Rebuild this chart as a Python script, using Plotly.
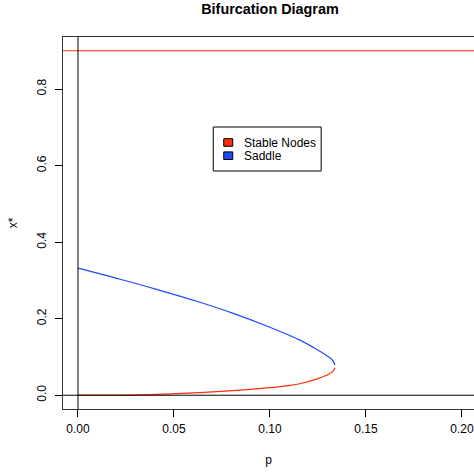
import plotly.graph_objects as go

# ---- data ----
p_saddle = [0.0, 0.022, 0.040, 0.0635, 0.0809, 0.0983, 0.1156, 0.1243, 0.1295, 0.1325, 0.1339]
x_saddle = [0.332, 0.303, 0.278, 0.243, 0.214, 0.181, 0.144, 0.120, 0.1036, 0.092, 0.079]

p_node = [0.0, 0.03, 0.0635, 0.0809, 0.0983, 0.108, 0.1156, 0.1243, 0.1295, 0.1325, 0.1339]
x_node = [0.0, 0.001, 0.007, 0.012, 0.019, 0.024, 0.030, 0.042, 0.052, 0.061, 0.072]

upper_node = 0.9

x_ticks = [0.0, 0.05, 0.10, 0.15, 0.20]
x_tick_labels = ["0.00", "0.05", "0.10", "0.15", "0.20"]
y_ticks = [0.0, 0.2, 0.4, 0.6, 0.8]
y_tick_labels = ["0.0", "0.2", "0.4", "0.6", "0.8"]

legend_labels = ["Stable Nodes", "Saddle"]

RED = "#FF2D0A"
BLUE = "#1E4BFF"
FONT = "Liberation Sans, Arial, Helvetica, sans-serif"

W, H = 474, 474
L, R, T, B = 62.6, 0, 37, 65

fig = go.Figure()

fig.add_trace(go.Scatter(x=p_saddle, y=x_saddle, mode="lines",
                         line=dict(color=BLUE, width=1.2, shape="spline", smoothing=1.0),
                         showlegend=False, hoverinfo="skip"))
fig.add_trace(go.Scatter(x=p_node, y=x_node, mode="lines",
                         line=dict(color=RED, width=1.2, shape="spline", smoothing=1.0),
                         showlegend=False, hoverinfo="skip"))

fig.add_hline(y=upper_node, line=dict(color=RED, width=1))
fig.add_hline(y=0, line=dict(color="black", width=1))
fig.add_vline(x=0, line=dict(color="black", width=1))

fig.update_layout(
    width=W, height=H,
    margin=dict(l=L, r=R, t=T, b=B, pad=0),
    paper_bgcolor="white", plot_bgcolor="white",
    font=dict(family=FONT, size=12, color="black"),
    title=dict(text="<b>Bifurcation Diagram</b>", x=(L + (W + 3.4 - L) / 2) / W,
               xanchor="center", y=1 - 9 / H, yanchor="middle",
               font=dict(size=14.4, family=FONT, color="black")),
    showlegend=False,
)

fig.update_xaxes(
    range=[-0.0078, 0.2063], tickvals=x_ticks, ticktext=x_tick_labels,
    ticks="outside", ticklen=7, tickwidth=1, tickcolor="black",
    showgrid=False, zeroline=False,
    showline=True, linecolor="#333333", linewidth=1, mirror=True,
    tickfont=dict(size=12, family=FONT, color="black"),
    ticklabelstandoff=2,
    title=dict(text="p", font=dict(size=12, family=FONT), standoff=20),
    automargin=False,
)
fig.update_yaxes(
    range=[-0.036, 0.936], tickvals=y_ticks, ticktext=y_tick_labels,
    ticks="outside", ticklen=7, tickwidth=1, tickcolor="black",
    showgrid=False, zeroline=False,
    showline=True, linecolor="#333333", linewidth=1, mirror=False,
    tickangle=-90,
    tickfont=dict(size=12, family=FONT, color="black"),
    ticklabelstandoff=4,
    title=dict(text="x*", font=dict(size=12, family=FONT), standoff=15),
    automargin=False,
)

# ---- legend box (R style) ----
pw = W - L - R
ph = H - T - B
def px(xp):
    return (xp - L) / pw
def py(yp):
    return (H - B - yp) / ph

fig.add_shape(type="rect", xref="paper", yref="paper",
              x0=px(213), x1=px(321), y0=py(171), y1=py(127),
              line=dict(color="black", width=1), fillcolor="white", layer="above")
for i, (lab, col) in enumerate(zip(legend_labels, [RED, BLUE])):
    cy = 142.5 + i * 13.2
    fig.add_shape(type="rect", xref="paper", yref="paper",
                  x0=px(223.5), x1=px(232.5), y0=py(cy + 3.8), y1=py(cy - 3.8),
                  line=dict(color="black", width=1), fillcolor=col, layer="above")
    fig.add_annotation(xref="paper", yref="paper", x=px(242), y=py(cy),
                       text=lab, showarrow=False, xanchor="left", yanchor="middle",
                       font=dict(size=12, family=FONT, color="black"))

fig.write_html("out.html")
